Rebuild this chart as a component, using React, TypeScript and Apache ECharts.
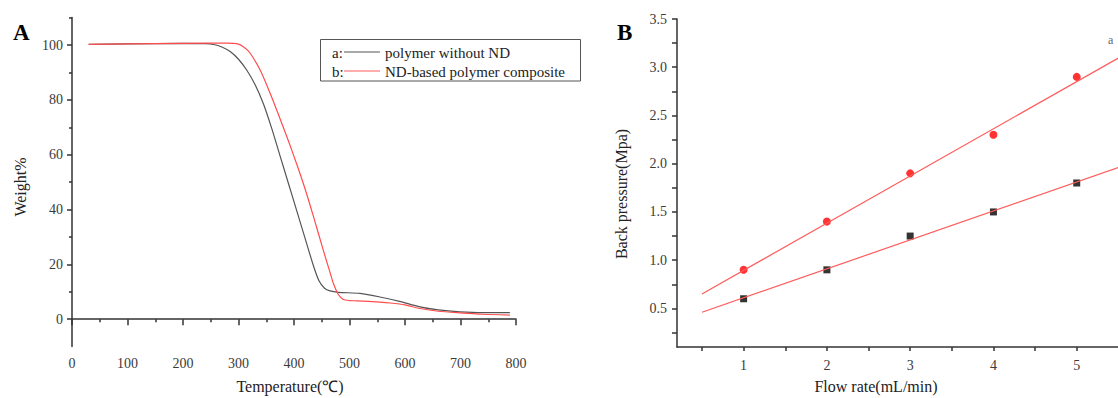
import React, { useEffect, useRef } from "react";
import * as echarts from "echarts";

// ---- Panel A (TGA) ----
const tempBlack = [30, 100, 200, 240, 255, 270, 285, 300, 315, 330, 345, 360, 375, 390, 405, 420, 435, 445, 455, 465, 480, 519, 555, 590, 627, 660, 699, 740, 789];
const weightBlack = [100.2, 100.4, 100.6, 100.5, 100.2, 99.3, 97.6, 94.8, 90.8, 85.5, 78.5, 69.5, 59.5, 49.5, 39.5, 29.5, 19.5, 14.0, 11.3, 10.3, 9.8, 9.4, 8.1, 6.5, 4.5, 3.4, 2.7, 2.4, 2.4];
const tempRed = [30, 100, 200, 280, 297, 310, 321, 339, 357, 375, 390, 405, 420, 435, 453, 465, 471, 480, 489, 500, 513, 555, 573, 600, 627, 660, 699, 740, 789];
const weightRed = [100.2, 100.4, 100.6, 100.7, 100.5, 99.2, 97.0, 90.9, 82.4, 73.0, 65.0, 56.5, 47.5, 37.5, 25.0, 17.0, 13.0, 9.0, 7.2, 6.8, 6.7, 6.2, 5.9, 5.2, 3.9, 2.9, 2.3, 1.8, 1.5];
const tempTickLabels = [0, 100, 200, 300, 400, 500, 600, 700, 800];
const weightTickLabels = [0, 20, 40, 60, 80, 100];
const weightMinorTicks = [10, 30, 50, 70, 90, 110];

// ---- Panel B (back pressure) ----
const flowRate = [1, 2, 3, 4, 5];
const pressureND = [0.9, 1.4, 1.9, 2.3, 2.9];
const pressurePlain = [0.6, 0.9, 1.25, 1.5, 1.8];
const fitFlow = [0.5, 6];
const fitND = [0.65, 3.34];
const fitPlain = [0.46, 2.11];
const flowTickLabels = [1, 2, 3, 4, 5];
const flowTicks = [0.5, 1, 1.5, 2, 2.5, 3, 3.5, 4, 4.5, 5];
const pressureTickLabels = [0.5, 1.0, 1.5, 2.0, 2.5, 3.0, 3.5];
const pressureTicks = [0.25, 0.5, 0.75, 1.0, 1.25, 1.5, 1.75, 2.0, 2.25, 2.5, 2.75, 3.0, 3.25, 3.5];

const legendA = ["polymer without ND", "ND-based polymer composite"];

const FONT = "'Liberation Serif', 'Times New Roman', serif";
const AX = "#333";

const zip = (xs: number[], ys: number[]) => xs.map((x, i) => [x, ys[i]]);

export default function App() {
  const ref = useRef<HTMLDivElement>(null);
  useEffect(() => {
    if (!ref.current) return;
    const chart = echarts.init(ref.current, null, { renderer: "svg" });
    const axisLine = { show: true, lineStyle: { color: AX, width: 1.5 } };
    const label = { fontFamily: FONT, fontSize: 14, color: "#3a3a3a" };
    chart.setOption({
      animation: false,
      backgroundColor: "#fff",
      grid: [
        { left: 72, top: 17.6, width: 444, height: 329 },
        { left: 677, top: 19, width: 483, height: 328 },
      ],
      xAxis: [
        {
          type: "value", gridIndex: 0, min: 0, max: 800, interval: 100,
          axisLine, splitLine: { show: false },
          axisTick: { show: true, length: 6, lineStyle: { color: AX, width: 1.5 } },
          minorTick: { show: true, splitNumber: 2, length: 3, lineStyle: { color: AX, width: 1.5 } },
          minorSplitLine: { show: false },
          axisLabel: { ...label, margin: 10, customValues: tempTickLabels },
        },
        {
          type: "value", gridIndex: 1, min: 0.2, max: 6,
          axisLine, splitLine: { show: false },
          axisTick: { show: true, length: 4, customValues: flowTicks, lineStyle: { color: AX, width: 1.5 } },
          axisLabel: { ...label, margin: 11, customValues: flowTickLabels },
        },
      ],
      yAxis: [
        {
          type: "value", gridIndex: 0, min: -10, max: 110,
          axisLine, splitLine: { show: false },
          axisTick: { show: true, length: 5, customValues: weightTickLabels, lineStyle: { color: AX, width: 1.5 } },
          axisLabel: { ...label, margin: 9, customValues: weightTickLabels },
        },
        {
          type: "value", gridIndex: 0, min: -10, max: 110, position: "left",
          axisLine: { show: false }, splitLine: { show: false },
          axisTick: { show: true, length: 3, customValues: weightMinorTicks, lineStyle: { color: AX, width: 1.5 } },
          axisLabel: { show: false },
        },
        {
          type: "value", gridIndex: 1, min: 0.1, max: 3.5,
          axisLine, splitLine: { show: false },
          axisTick: { show: true, length: 5, customValues: pressureTicks, lineStyle: { color: AX, width: 1.5 } },
          axisLabel: { ...label, margin: 10, customValues: pressureTickLabels, formatter: (v: number) => v.toFixed(1) },
        },
      ],
      series: [
        {
          type: "line", xAxisIndex: 0, yAxisIndex: 0, data: zip(tempBlack, weightBlack),
          symbol: "none", smooth: 0.25,
          lineStyle: { color: "#555", width: 1.2 },
        },
        {
          type: "line", xAxisIndex: 0, yAxisIndex: 0, data: zip(tempRed, weightRed),
          symbol: "none", smooth: 0.25,
          lineStyle: { color: "#ff4d4d", width: 1.2 },
        },
        {
          type: "line", xAxisIndex: 1, yAxisIndex: 2, data: zip(fitFlow, fitND),
          symbol: "none", lineStyle: { color: "#ff5a5a", width: 1.2 },
        },
        {
          type: "line", xAxisIndex: 1, yAxisIndex: 2, data: zip(fitFlow, fitPlain),
          symbol: "none", lineStyle: { color: "#ff5a5a", width: 1.2 },
        },
        {
          type: "scatter", xAxisIndex: 1, yAxisIndex: 2, data: zip(flowRate, pressureND),
          symbol: "circle", symbolSize: 8, itemStyle: { color: "#ff0000" },
        },
        {
          type: "scatter", xAxisIndex: 1, yAxisIndex: 2, data: zip(flowRate, pressurePlain),
          symbol: "rect", symbolSize: 7, itemStyle: { color: "#000" },
        },
      ],
      graphic: [
        { type: "text", x: 13, y: 21, style: { text: "A", font: `bold 23px ${FONT}`, fill: "#000" } },
        { type: "text", x: 617, y: 21, style: { text: "B", font: `bold 23px ${FONT}`, fill: "#000" } },
        { type: "text", x: 20, y: 187, rotation: Math.PI / 2, style: { text: "Weight%", font: `16px ${FONT}`, fill: "#222", align: "center", verticalAlign: "middle" } },
        { type: "text", x: 290, y: 386, style: { text: "Temperature(℃)", font: `16px ${FONT}`, fill: "#222", align: "center", verticalAlign: "middle" } },
        { type: "text", x: 621, y: 194, rotation: Math.PI / 2, style: { text: "Back pressure(Mpa)", font: `16px ${FONT}`, fill: "#222", align: "center", verticalAlign: "middle" } },
        { type: "text", x: 876, y: 386, style: { text: "Flow rate(mL/min)", font: `16px ${FONT}`, fill: "#222", align: "center", verticalAlign: "middle" } },
        { type: "text", x: 1108, y: 40, style: { text: "a", font: `12px ${FONT}`, fill: "#666", verticalAlign: "middle" } },
        // legend A
        { type: "rect", shape: { x: 320.5, y: 39.5, width: 260, height: 41.5 }, style: { fill: "#fff", stroke: "#555", lineWidth: 1 } },
        { type: "text", x: 332, y: 53, style: { text: "a:", font: `15px ${FONT}`, fill: "#222", verticalAlign: "middle" } },
        { type: "line", shape: { x1: 344, y1: 52, x2: 380, y2: 52 }, style: { stroke: "#555", lineWidth: 1.2 } },
        { type: "text", x: 385, y: 53, style: { text: legendA[0], font: `15px ${FONT}`, fill: "#222", verticalAlign: "middle" } },
        { type: "text", x: 332, y: 72, style: { text: "b:", font: `15px ${FONT}`, fill: "#222", verticalAlign: "middle" } },
        { type: "line", shape: { x1: 344, y1: 71, x2: 380, y2: 71 }, style: { stroke: "#ff5a5a", lineWidth: 1.2 } },
        { type: "text", x: 385, y: 72, style: { text: legendA[1], font: `15px ${FONT}`, fill: "#222", verticalAlign: "middle" } },
      ],
    });
    return () => chart.dispose();
  }, []);
  return (
    <div style={{ position: "absolute", left: 0, top: 0, width: 1118, height: 398, overflow: "hidden", background: "#fff" }}>
      <div ref={ref} style={{ width: 1170, height: 398 }} />
    </div>
  );
}
